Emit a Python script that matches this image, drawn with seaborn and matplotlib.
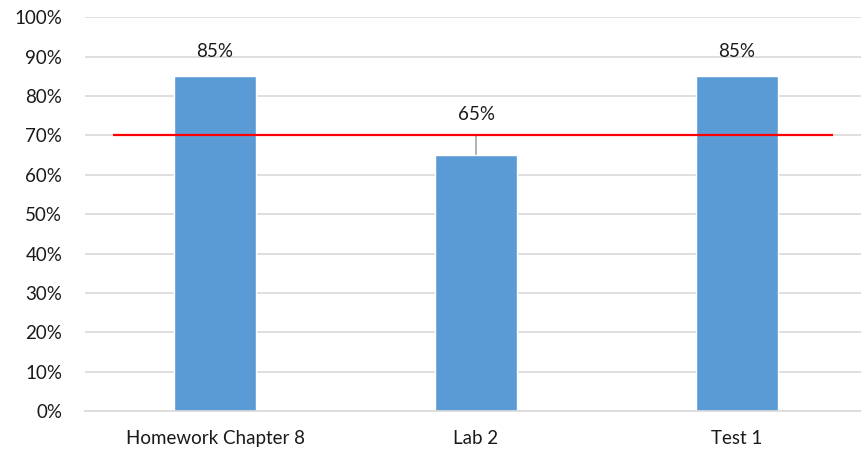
import matplotlib
matplotlib.use("Agg")
import matplotlib.pyplot as plt
import seaborn as sns
import pandas as pd
from matplotlib.ticker import PercentFormatter

categories = ["Homework Chapter 8", "Lab 2", "Test 1"]
scores = [0.85, 0.65, 0.85]
target = 0.70
y_ticks = [i / 10 for i in range(11)]

df = pd.DataFrame({"item": categories, "score": scores})

sns.set_theme(style="white")
plt.rcParams["font.family"] = ["Lato", "DejaVu Sans"]

fig = plt.figure(figsize=(8.61, 4.55), dpi=100)
ax = fig.add_axes([84.5 / 861, 44 / 455, (861 - 84.5) / 861, (411 - 17.3) / 455])

sns.barplot(data=df, x="item", y="score", color="#5B9BD5", width=0.314,
            saturation=1, ax=ax, zorder=2)

ax.set_xlim(-0.5, 2.475)
ax.set_ylim(0, 1.0)
ax.set_yticks(y_ticks)
ax.yaxis.set_major_formatter(PercentFormatter(1.0, decimals=0))
ax.grid(axis="y", color="#D9D9D9", linewidth=1.2, zorder=0)
ax.set_axisbelow(True)
for s in ["top", "right", "left"]:
    ax.spines[s].set_visible(False)
ax.spines["bottom"].set_color("#D9D9D9")
ax.spines["bottom"].set_linewidth(1.2)
ax.set_xlabel("")
ax.set_ylabel("")
ax.tick_params(axis="y", length=0, pad=16, labelsize=13.5, colors="#1a1a1a")
ax.tick_params(axis="x", length=0, pad=14, labelsize=13.5, colors="#1a1a1a")

# target line
ax.hlines(target, -0.392, 2.368, color="#FF0000", linewidth=1.6, zorder=3)

# value labels; the middle one is lifted clear of the target line with a leader
for i, v in enumerate(scores):
    if v < target:
        ly = v + 0.102
        ax.plot([i, i], [v, target + 0.002], color="#A6A6A6", linewidth=1.2, zorder=1)
    else:
        ly = v + 0.062
    ax.text(i, ly, f"{v:.0%}", ha="center", va="center", fontsize=13.5,
            color="#1a1a1a", zorder=4)

fig.savefig("out.png", dpi=100)
